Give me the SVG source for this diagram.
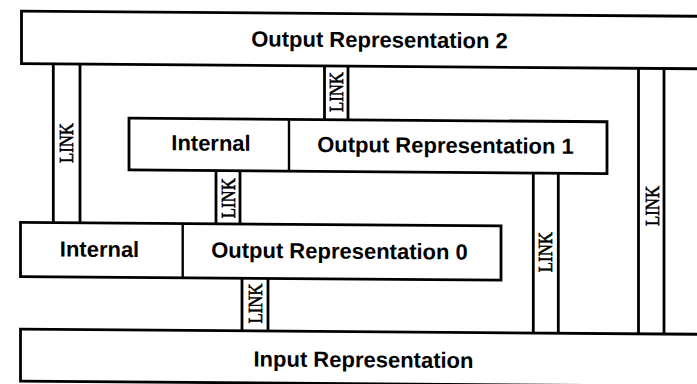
<svg xmlns="http://www.w3.org/2000/svg" width="697" height="384" viewBox="0 0 697 384">
  <style>
    .box { fill: #ffffff; stroke: #000000; stroke-width: 2.8; }
    .div { stroke: #000000; stroke-width: 2.4; fill: none; }
    .rail { stroke: #000000; stroke-width: 2.8; fill: none; }
    .lbl { font-family: "Liberation Sans", Arial, Helvetica, sans-serif; font-weight: bold; font-size: 22px; fill: #000000; text-anchor: middle; }
    .link { font-family: "Liberation Serif", "Times New Roman", serif; font-size: 20px; fill: #000000; stroke: #000000; stroke-width: 0.6; text-anchor: middle; }
  </style>
  <rect x="0" y="0" width="697" height="384" fill="#ffffff"/>
  <g transform="skewY(0.43)">
    <g id="connectors">
      <g id="link-left">
        <path class="rail" d="M53.3,63.5 V222.2 M80,63.5 V222.2"/>
        <text class="link" transform="translate(66.7,142.5) rotate(-90)" x="0" y="6.6" textLength="40" lengthAdjust="spacingAndGlyphs">LINK</text>
      </g>
      <g id="link-top-mid">
        <path class="rail" d="M324.5,63.5 V117.2 M348,63.5 V117.2"/>
        <text class="link" transform="translate(336.2,89.5) rotate(-90)" x="0" y="6.6" textLength="40" lengthAdjust="spacingAndGlyphs">LINK</text>
      </g>
      <g id="link-mid">
        <path class="rail" d="M216,169 V222.2 M240,169 V222.2"/>
        <text class="link" transform="translate(228,196.5) rotate(-90)" x="0" y="6.6" textLength="40" lengthAdjust="spacingAndGlyphs">LINK</text>
      </g>
      <g id="link-low">
        <path class="rail" d="M242,276.4 V329 M268,276.4 V329"/>
        <text class="link" transform="translate(255.5,301.6) rotate(-90)" x="0" y="6.6" textLength="40" lengthAdjust="spacingAndGlyphs">LINK</text>
      </g>
      <g id="link-right-a">
        <path class="rail" d="M533.3,169 V329 M558.3,169 V329"/>
        <text class="link" transform="translate(545.8,248) rotate(-90)" x="0" y="6.6" textLength="40" lengthAdjust="spacingAndGlyphs">LINK</text>
      </g>
      <g id="link-right-b">
        <path class="rail" d="M638.5,63.5 V329 M664,63.5 V329"/>
        <text class="link" transform="translate(652,201) rotate(-90)" x="0" y="6.6" textLength="40" lengthAdjust="spacingAndGlyphs">LINK</text>
      </g>
    </g>
    <g id="output-representation-2">
      <rect class="box" x="21.5" y="11" width="700" height="52.5"/>
      <text class="lbl" x="379.5" y="44.5">Output Representation 2</text>
    </g>
    <g id="output-representation-1">
      <rect class="box" x="129" y="117.2" width="478" height="51.8"/>
      <line class="div" x1="289" y1="117.2" x2="289" y2="169"/>
      <text class="lbl" x="211" y="149">Internal</text>
      <text class="lbl" x="445.5" y="149.5">Output Representation 1</text>
    </g>
    <g id="output-representation-0">
      <rect class="box" x="20.5" y="222.2" width="480.5" height="54.2"/>
      <line class="div" x1="182.7" y1="222.2" x2="182.7" y2="276.4"/>
      <text class="lbl" x="99.5" y="256">Internal</text>
      <text class="lbl" x="339.5" y="256">Output Representation 0</text>
    </g>
    <g id="input-representation">
      <rect class="box" x="20.5" y="329" width="700" height="52"/>
      <text class="lbl" x="363.5" y="364.5">Input Representation</text>
    </g>
  </g>
</svg>
